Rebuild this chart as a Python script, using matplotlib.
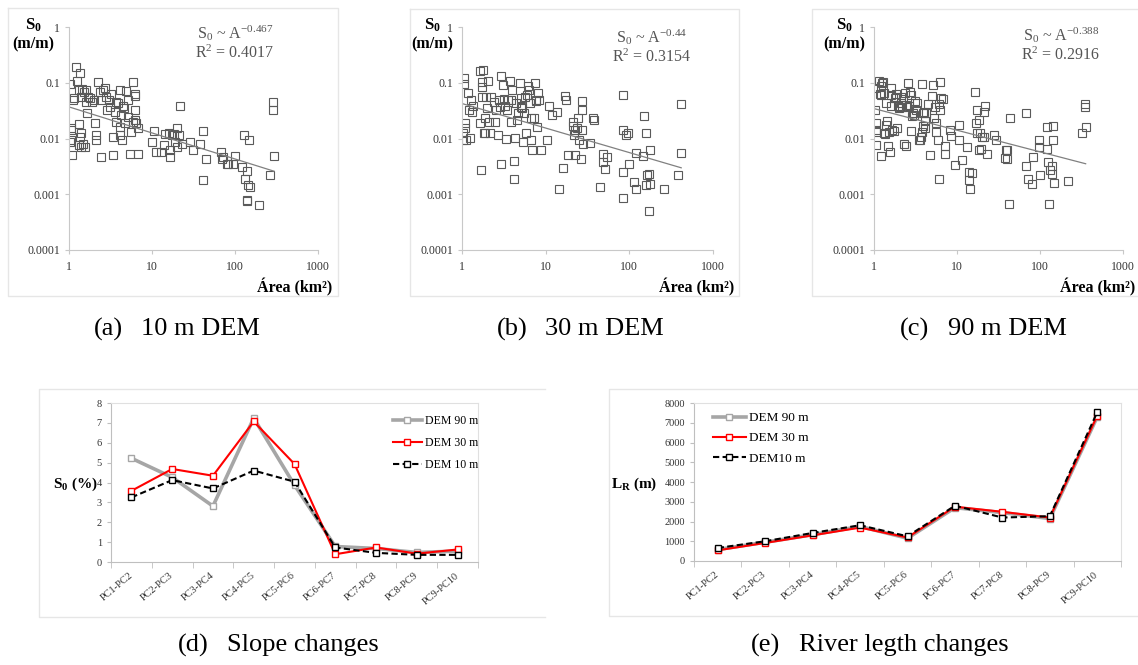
import numpy as np
import matplotlib
matplotlib.use("Agg")
import matplotlib.pyplot as plt
from matplotlib.lines import Line2D

plt.rcParams.update({
    "font.family": "Liberation Serif",
    "mathtext.fontset": "custom",
    "mathtext.rm": "Liberation Serif",
    "mathtext.it": "Liberation Serif:italic",
    "mathtext.bf": "Liberation Serif:bold",
})

# ---- scatter data (log10 of area km2, log10 of slope m/m)
# (a) 10 m DEM
log_area_10 = [0.01, 0.02, 0.01, 0.02, 0.03, 0.04, 0.05, 0.06, 0.08, 0.10, 0.12, 0.12, 0.12, 0.13,
               0.13, 0.14, 0.15, 0.15, 0.16, 0.17, 0.18, 0.19, 0.21, 0.21, 0.22, 0.23, 0.25, 0.28,
               0.30, 0.31, 0.32, 0.33, 0.35, 0.37, 0.38, 0.39, 0.41, 0.43, 0.45, 0.46, 0.48, 0.49,
               0.51, 0.53, 0.53, 0.55, 0.57, 0.57, 0.59, 0.61, 0.61, 0.62, 0.63, 0.64, 0.65, 0.66,
               0.67, 0.69, 0.71, 0.71, 0.73, 0.75, 0.77, 0.77, 0.79, 0.79, 0.79, 0.80, 0.81, 0.83,
               0.83, 1.00, 1.02, 1.05, 1.11, 1.14, 1.16, 1.20, 1.22, 1.22, 1.24, 1.26, 1.28, 1.30,
               1.30, 1.32, 1.34, 1.36, 1.46, 1.49, 1.58, 1.62, 1.61, 1.65, 1.83, 1.84, 1.86, 1.90,
               1.92, 1.98, 2.00, 2.09, 2.11, 2.12, 2.14, 2.14, 2.15, 2.16, 2.17, 2.18, 2.29, 2.42,
               2.46, 2.46, 2.47]
log_slope_10 = [-1.02, -2.03, -2.06, -1.81, -1.84, -2.30, -1.31, -1.27, -0.72, -0.96, -1.13, -1.74,
                -2.12, -0.82, -1.97, -1.90, -2.15, -1.25, -1.12, -2.09, -1.16, -2.15, -1.34, -1.13,
                -1.55, -1.25, -1.28, -1.34, -1.31, -1.73, -1.94, -2.02, -0.99, -1.16, -1.31, -2.34,
                -1.13, -1.10, -1.25, -1.49, -1.31, -1.43, -1.21, -1.97, -2.30, -1.52, -1.70, -1.34,
                -1.37, -1.13, -1.79, -1.94, -1.58, -2.03, -1.42, -1.46, -1.72, -1.15, -1.61, -1.31,
                -2.27, -1.88, -0.99, -1.70, -1.21, -1.24, -1.67, -1.49, -1.73, -2.27, -1.82, -2.06,
                -1.86, -2.24, -2.24, -2.11, -1.92, -1.91, -2.21, -2.34, -1.94, -1.92, -2.06, -2.15,
                -1.82, -1.94, -1.42, -2.09, -2.06, -2.20, -2.09, -1.86, -2.75, -2.36, -2.24, -2.36,
                -2.34, -2.46, -2.45, -2.46, -2.32, -2.51, -1.94, -2.72, -2.58, -3.13, -3.10, -2.84,
                -2.02, -2.87, -3.19, -2.66, -1.34, -1.49, -2.31]

# (b) 30 m DEM
log_area_30 = [0.01, 0.01, 0.02, 0.02, 0.03, 0.04, 0.05, 0.07, 0.08, 0.10, 0.11, 0.12, 0.13, 0.21,
               0.22, 0.23, 0.24, 0.24, 0.24, 0.25, 0.26, 0.27, 0.28, 0.29, 0.30, 0.31, 0.32, 0.33,
               0.35, 0.38, 0.39, 0.41, 0.43, 0.44, 0.46, 0.47, 0.47, 0.49, 0.50, 0.51, 0.52, 0.54,
               0.55, 0.57, 0.58, 0.59, 0.60, 0.62, 0.62, 0.63, 0.65, 0.66, 0.67, 0.69, 0.70, 0.71,
               0.72, 0.73, 0.74, 0.75, 0.76, 0.78, 0.79, 0.80, 0.81, 0.82, 0.83, 0.84, 0.86, 0.87,
               0.88, 0.89, 0.90, 0.91, 0.92, 0.94, 1.01, 1.04, 1.07, 1.13, 1.16, 1.21, 1.23, 1.24,
               1.27, 1.33, 1.33, 1.34, 1.35, 1.35, 1.37, 1.39, 1.40, 1.42, 1.43, 1.43, 1.44, 1.45,
               1.53, 1.57, 1.58, 1.65, 1.68, 1.69, 1.71, 1.73, 1.92, 1.92, 1.92, 1.93, 1.96, 1.98,
               2.00, 2.06, 2.08, 2.08, 2.16, 2.18, 2.20, 2.20, 2.21, 2.24, 2.24, 2.25, 2.25, 2.42,
               2.58, 2.62, 2.62]
log_slope_30 = [-1.90, -2.03, -0.91, -1.03, -1.73, -1.82, -2.03, -1.19, -1.49, -1.99, -1.31, -1.52,
                -1.42, -1.73, -0.79, -2.56, -0.99, -1.25, -1.07, -0.78, -1.91, -1.64, -1.90, -1.25,
                -1.46, -0.97, -1.70, -1.91, -1.25, -1.34, -1.70, -1.49, -1.94, -1.31, -1.43, -2.45,
                -0.88, -1.04, -1.30, -1.42, -2.00, -1.49, -1.31, -0.97, -1.70, -1.31, -1.13, -2.41,
                -2.73, -1.99, -1.37, -1.67, -1.55, -1.01, -1.27, -1.43, -1.46, -2.06, -1.55, -1.25,
                -1.91, -1.22, -1.06, -1.13, -1.37, -2.02, -1.64, -2.21, -1.64, -1.01, -1.31, -1.33,
                -1.79, -1.19, -1.31, -2.21, -2.03, -1.42, -1.58, -1.52, -2.91, -2.53, -1.24, -1.31,
                -2.29, -1.70, -1.78, -1.94, -1.85, -2.30, -1.81, -1.64, -2.02, -2.36, -1.49, -1.33,
                -1.84, -2.09, -2.08, -1.64, -1.67, -2.87, -2.27, -2.42, -2.54, -2.33, -1.22, -2.60,
                -3.06, -1.85, -1.94, -1.91, -2.45, -2.78, -2.26, -2.90, -2.31, -1.60, -2.84, -1.91,
                -2.66, -2.64, -3.30, -2.20, -2.81, -2.90, -2.66, -1.39, -2.26]

# (c) 90 m DEM
log_area_90 = [0.01, 0.01, 0.02, 0.02, 0.02, 0.03, 0.06, 0.07, 0.08, 0.08, 0.09, 0.10, 0.11, 0.12,
               0.12, 0.13, 0.14, 0.15, 0.16, 0.17, 0.18, 0.19, 0.20, 0.21, 0.21, 0.22, 0.24, 0.25,
               0.26, 0.27, 0.28, 0.29, 0.30, 0.31, 0.32, 0.33, 0.34, 0.35, 0.36, 0.37, 0.38, 0.39,
               0.40, 0.41, 0.42, 0.43, 0.44, 0.45, 0.46, 0.47, 0.48, 0.49, 0.50, 0.52, 0.54, 0.55,
               0.57, 0.58, 0.58, 0.59, 0.59, 0.60, 0.61, 0.61, 0.63, 0.65, 0.68, 0.70, 0.71, 0.72,
               0.73, 0.75, 0.75, 0.77, 0.78, 0.78, 0.79, 0.80, 0.81, 0.83, 0.85, 0.86, 0.91, 0.93,
               0.98, 1.02, 1.03, 1.06, 1.12, 1.14, 1.15, 1.16, 1.18, 1.22, 1.23, 1.24, 1.24, 1.26,
               1.27, 1.28, 1.29, 1.30, 1.32, 1.33, 1.34, 1.36, 1.44, 1.47, 1.58, 1.59, 1.60, 1.60,
               1.63, 1.64, 1.83, 1.83, 1.85, 1.90, 1.91, 1.99, 1.99, 2.00, 2.08, 2.09, 2.10, 2.11,
               2.12, 2.14, 2.15, 2.16, 2.16, 2.17, 2.34, 2.50, 2.54, 2.54, 2.55]
log_slope_90 = [-1.09, -1.48, -1.88, -2.12, -1.72, -1.85, -0.96, -1.21, -1.22, -2.32, -1.06, -1.01,
                -0.99, -1.18, -1.91, -1.92, -1.76, -1.37, -1.68, -2.14, -1.88, -2.24, -1.10, -1.22,
                -1.42, -1.85, -1.86, -1.27, -1.25, -1.21, -1.82, -1.42, -1.46, -1.44, -1.25, -1.37,
                -1.43, -1.30, -2.10, -1.19, -1.40, -2.14, -1.43, -1.01, -1.42, -1.16, -1.86, -1.22,
                -1.60, -1.55, -1.58, -1.33, -1.49, -1.36, -2.02, -2.03, -1.97, -1.03, -1.88, -1.78,
                -1.55, -1.52, -1.82, -1.68, -1.54, -1.39, -2.30, -1.24, -1.04, -1.64, -1.44, -1.88,
                -1.72, -2.02, -1.39, -2.72, -1.49, -0.99, -1.28, -1.30, -2.14, -2.28, -1.84, -1.96,
                -2.47, -1.76, -2.03, -2.38, -2.15, -2.60, -2.75, -2.91, -2.61, -1.16, -1.72, -1.48,
                -1.91, -2.20, -1.66, -1.90, -2.18, -1.97, -1.98, -1.52, -1.42, -2.27, -1.94, -2.02,
                -2.35, -2.21, -2.36, -2.20, -3.18, -1.64, -1.55, -2.49, -2.73, -2.82, -2.33, -2.02,
                -2.15, -2.66, -2.18, -1.79, -2.42, -3.18, -2.57, -2.50, -2.63, -1.78, -2.02, -2.79,
                -2.76, -1.91, -1.43, -1.39, -1.80]

# power-law fits printed on the panels: S0 = c * A^k
fit_exp = [-0.467, -0.44, -0.388]
fit_coef = [0.0369, 0.0424, 0.0344]
fit_r2 = ["0.4017", "0.3154", "0.2916"]

x_ticks = [1, 10, 100, 1000]
x_tick_labels = ["1", "10", "100", "1000"]
y_ticks = [1e-4, 1e-3, 1e-2, 1e-1, 1]
y_tick_labels = ["0.0001", "0.001", "0.01", "0.1", "1"]

# ---- line chart data
pairs = ["PC1-PC2", "PC2-PC3", "PC3-PC4", "PC4-PC5", "PC5-PC6",
         "PC6-PC7", "PC7-PC8", "PC8-PC9", "PC9-PC10"]
slope_90 = [5.22, 4.26, 2.81, 7.24, 3.87, 0.78, 0.68, 0.48, 0.55]
slope_30 = [3.58, 4.68, 4.34, 7.07, 4.93, 0.39, 0.73, 0.42, 0.63]
slope_10 = [3.25, 4.12, 3.70, 4.60, 4.04, 0.73, 0.46, 0.36, 0.36]
length_90 = [580, 950, 1330, 1750, 1150, 2700, 2450, 2150, 7300]
length_30 = [540, 915, 1300, 1690, 1190, 2750, 2490, 2200, 7360]
length_10 = [660, 1000, 1420, 1810, 1250, 2800, 2200, 2270, 7540]

W, H = 1138, 665
fig = plt.figure(figsize=(W / 100, H / 100), dpi=100)


def box(x0, y0, x1, y1):
    return [x0 / W, 1 - y1 / H, (x1 - x0) / W, (y1 - y0) / H]


def ftext(x, y, s, **kw):
    fig.text(x / W, 1 - y / H, s, **kw)


def fline(xs, ys, color="#e6e6e6"):
    fig.add_artist(Line2D([x / W for x in xs], [1 - y / H for y in ys], color=color, lw=1))


# chart-area frames
fline([8, 338, 338, 8, 8], [8, 8, 296, 296, 8])
fline([410, 739, 739, 410, 410], [9, 9, 296, 296, 9])
fline([1140, 812, 812, 1140], [9, 9, 296, 296])
fline([545, 39, 39, 545], [389, 389, 617, 617])
fline([1140, 609, 609, 1140], [389, 389, 616, 616])


def scatter_panel(rect, la, ls, k, c0, r2, note_x, note_y, ylab_x, xlab_r):
    ax = fig.add_axes(box(*rect))
    area = 10.0 ** np.array(la)
    slope = 10.0 ** np.array(ls)
    ax.plot(area, slope, ls="none", marker="s", ms=5.2, mfc="none", mec="#5a5a5a", mew=0.8)
    fa = np.logspace(0, np.log10(area.max()), 60)
    ax.plot(fa, c0 * fa ** k, color="#808080", lw=0.9)
    ax.set_xscale("log")
    ax.set_yscale("log")
    ax.set_xlim(1, 1000)
    ax.set_ylim(1e-4, 1)
    ax.set_xticks(x_ticks)
    ax.set_xticklabels(x_tick_labels)
    ax.set_yticks(y_ticks)
    ax.set_yticklabels(y_tick_labels)
    ax.minorticks_off()
    for s in ("top", "right"):
        ax.spines[s].set_visible(False)
    for s in ("left", "bottom"):
        ax.spines[s].set_color("#c8c8c8")
    ax.tick_params(length=3, color="#c8c8c8", labelsize=8.5, labelcolor="#333333")
    ax.tick_params(axis="x", pad=5)
    ftext(note_x, note_y, "S$_0$ ~ A$^{%s}$" % k, ha="center", va="center",
          fontsize=11.5, color="#555555")
    ftext(note_x, note_y + 20, "R$^2$ = " + r2, ha="center", va="center",
          fontsize=11.5, color="#555555")
    ftext(ylab_x, 25, r"$\mathbf{S_0}$", ha="center", va="center", fontsize=12)
    ftext(ylab_x, 44, "(m/m)", ha="center", va="center", fontsize=11.5, fontweight="bold")
    ftext(xlab_r, 287, "Área (km²)", ha="right", va="center", fontsize=11.5, fontweight="bold")
    return ax


scatter_panel((69, 27, 318, 250), log_area_10, log_slope_10, fit_exp[0], fit_coef[0], fit_r2[0],
              235, 33, 33, 332)
scatter_panel((462, 27, 713, 250), log_area_30, log_slope_30, fit_exp[1], fit_coef[1], fit_r2[1],
              652, 37, 432, 734)
scatter_panel((874, 27, 1123, 250), log_area_90, log_slope_90, fit_exp[2], fit_coef[2], fit_r2[2],
              1061, 35, 844, 1135)


def line_panel(rect, s90, s30, s10, labels, ymax, ystep, ylab, ylab_x, leg_xy, leg_fs, leg_hl,
               leg_sp):
    ax = fig.add_axes(box(*rect))
    x = np.arange(len(pairs))
    ax.plot(x, s90, color="#a6a6a6", lw=2.6, marker="s", ms=4.5, mfc="white",
            mec="#a6a6a6", mew=1.0, label=labels[0])
    ax.plot(x, s30, color="#ff0000", lw=1.5, marker="s", ms=4.5, mfc="white",
            mec="#ff0000", mew=1.0, label=labels[1])
    ax.plot(x, s10, color="black", lw=1.5, ls=(0, (3, 1.6)), marker="s", ms=4.5, mfc="white",
            mec="black", mew=1.0, label=labels[2])
    ax.set_xlim(-0.5, len(pairs) - 0.5)
    ax.set_ylim(0, ymax)
    ax.set_yticks(np.arange(0, ymax + ystep, ystep))
    ax.set_xticks(x)
    ax.set_xticklabels(pairs, rotation=40, ha="right", va="center", rotation_mode="anchor")
    ax.set_xticks(np.arange(len(pairs) + 1) - 0.5, minor=True)
    ax.tick_params(axis="x", which="major", length=0, pad=9, labelsize=7.5, labelcolor="#333333")
    ax.tick_params(axis="x", which="minor", length=4, color="#bfbfbf")
    ax.tick_params(axis="y", length=3, color="#bfbfbf", labelsize=7.5, labelcolor="#333333")
    for s in ("left", "bottom"):
        ax.spines[s].set_color("#bfbfbf")
    for s in ("top", "right"):
        ax.spines[s].set_color("#e0e0e0")
    ftext(ylab_x, 484, ylab, ha="center", va="center", fontsize=11, fontweight="bold")
    ax.legend(loc="upper left", bbox_to_anchor=(leg_xy[0] / W, 1 - leg_xy[1] / H),
              bbox_transform=fig.transFigure, frameon=False, fontsize=leg_fs,
              handlelength=leg_hl, handletextpad=0.25, labelspacing=leg_sp,
              borderpad=0, borderaxespad=0)
    return ax


line_panel((111, 403, 478, 562), slope_90, slope_30, slope_10,
           ["DEM 90 m", "DEM 30 m", "DEM 10 m"], 8, 1,
           r"$\mathbf{S_0}$ (%)", 75, (393, 415), 8.5, 2.45, 0.85)
line_panel((694, 403, 1121, 561), length_90, length_30, length_10,
           ["DEM 90 m", "DEM 30 m", "DEM10 m"], 8000, 1000,
           r"$\mathbf{L_R}$ (m)", 634, (713, 412), 9.5, 2.5, 0.6)

# captions
cap_fs = 19
for lx, tx, y, tag, txt in [(94, 141, 329, "(a)", "10 m DEM"),
                            (497, 545, 329, "(b)", "30 m DEM"),
                            (900, 948, 329, "(c)", "90 m DEM"),
                            (178, 227, 645, "(d)", "Slope changes"),
                            (751, 799, 645, "(e)", "River legth changes")]:
    ftext(lx, y, tag, ha="left", va="center", fontsize=cap_fs)
    ftext(tx, y, txt, ha="left", va="center", fontsize=cap_fs)

fig.savefig("out.png", dpi=100)
